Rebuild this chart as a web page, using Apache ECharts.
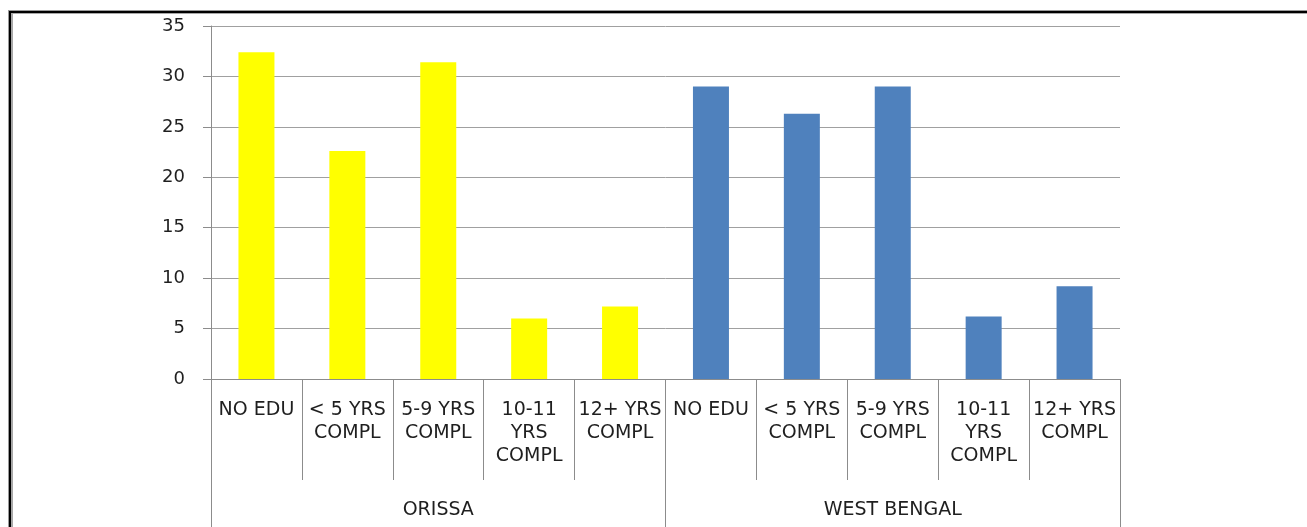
<!DOCTYPE html>
<html>
<head>
<meta charset="utf-8">
<script src="https://cdn.jsdelivr.net/npm/echarts@6/dist/echarts.min.js"></script>
<style>
  html, body { margin: 0; padding: 0; background: #ffffff; }
  #chart { position: absolute; left: 0; top: 0; width: 1307px; height: 527px; }
  .frame { position: absolute; pointer-events: none; }
  #f1 { left: 8px; top: 10px; width: 1400px; height: 600px; border-left: 1px solid #9a9a9a; border-top: 1px solid #9a9a9a; }
  #f2 { left: 0; top: 0; width: 1400px; height: 600px; border-left: 2px solid #000; border-top: 2px solid #000; }
  #f3 { left: 0; top: 0; width: 1400px; height: 600px; border-left: 2px solid #a8a8a8; border-top: 1px solid #a8a8a8; }
</style>
</head>
<body>
<div id="chart"></div>
<div class="frame" id="f1"><div class="frame" id="f2"><div class="frame" id="f3"></div></div></div>
<script>
// Education levels, repeated for each state
const educationLevels = ['NO EDU', '< 5 YRS\nCOMPL', '5-9 YRS\nCOMPL', '10-11\nYRS\nCOMPL', '12+ YRS\nCOMPL'];
const states = ['ORISSA', 'WEST BENGAL'];
const orissaValues = [32.4, 22.6, 31.4, 6.0, 7.2];
const westBengalValues = [29.0, 26.3, 29.0, 6.2, 9.2];
const yTicks = [0, 5, 10, 15, 20, 25, 30, 35];

const categories = states.flatMap(() => educationLevels);
const blanks = educationLevels.map(() => '-');

const axisGray = '#8c8c8c';
const labelFont = 'DejaVu Sans';

const chart = echarts.init(document.getElementById('chart'), null, { renderer: 'canvas' });
chart.setOption({
  backgroundColor: '#ffffff',
  animation: false,
  grid: { left: 211, right: 187, top: 26, bottom: 148, containLabel: false },
  xAxis: [
    {
      type: 'category',
      data: categories,
      position: 'bottom',
      axisLine: { show: true, lineStyle: { color: axisGray, width: 1 } },
      axisTick: { show: true, interval: 0, length: 101, alignWithLabel: false, lineStyle: { color: axisGray } },
      axisLabel: {
        interval: 0, margin: 20, color: '#1f1f1f',
        fontFamily: labelFont, fontSize: 19, lineHeight: 23, align: 'center'
      },
      splitLine: { show: false }
    },
    {
      type: 'category',
      data: states,
      position: 'bottom',
      axisLine: { show: false },
      axisTick: { show: true, interval: 0, length: 148, alignWithLabel: false, lineStyle: { color: axisGray } },
      axisLabel: { interval: 0, margin: 122, color: '#1f1f1f', fontFamily: labelFont, fontSize: 19 },
      splitLine: { show: false }
    }
  ],
  yAxis: {
    type: 'value',
    min: yTicks[0],
    max: yTicks[yTicks.length - 1],
    interval: yTicks[1] - yTicks[0],
    axisLine: { show: true, lineStyle: { color: axisGray } },
    axisTick: { show: true, length: 8, lineStyle: { color: axisGray } },
    axisLabel: { margin: 26, color: '#1f1f1f', fontFamily: labelFont, fontSize: 18 },
    splitLine: { show: true, lineStyle: { color: '#a0a0a0', width: 1 } }
  },
  series: [
    {
      name: states[0],
      type: 'bar',
      xAxisIndex: 0,
      data: orissaValues.concat(blanks),
      barWidth: 36,
      barGap: '-100%',
      itemStyle: { color: '#ffff00' }
    },
    {
      name: states[1],
      type: 'bar',
      xAxisIndex: 0,
      data: blanks.concat(westBengalValues),
      barWidth: 36,
      barGap: '-100%',
      itemStyle: { color: '#4f81bd' }
    }
  ]
});
</script>
</body>
</html>
